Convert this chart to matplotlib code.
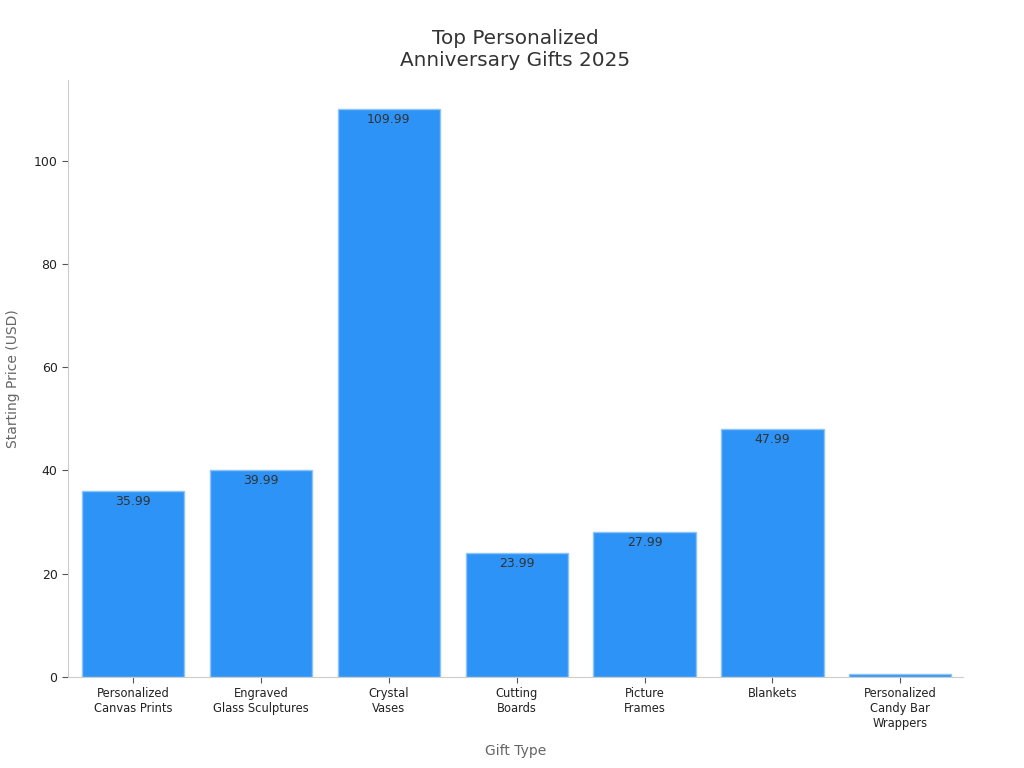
import matplotlib as mpl
mpl.use('Agg')
import matplotlib.pyplot as plt
import numpy as np

# data
gifts = ['Personalized\nCanvas Prints', 'Engraved\nGlass Sculptures', 'Crystal\nVases',
         'Cutting\nBoards', 'Picture\nFrames', 'Blankets', 'Personalized\nCandy Bar\nWrappers']
prices = [35.99, 39.99, 109.99, 23.99, 27.99, 47.99, 0.5]

fig = plt.figure(figsize=(10.24, 7.68), dpi=100)
ax = fig.add_axes([68/1024, 1-677/768, (963-68)/1024, (677-80)/768])

x = np.arange(len(gifts))
bars = ax.bar(x, prices, width=0.8, color='#2E93F7', edgecolor='#8CC4F5', linewidth=1)

for xi, p in zip(x, prices):
    if p > 1:
        ax.text(xi, p - 0.7, '%.2f' % p, ha='center', va='top', fontsize=9, color='#333333')

ax.set_xlim(-0.51, 6.49)
ax.set_ylim(0, 115.6)
ax.set_xticks(x)
ax.set_xticklabels(gifts, fontsize=8.3, color='#222222')
ax.set_yticks([0, 20, 40, 60, 80, 100])
ax.tick_params(axis='y', labelsize=9, colors='#222222')
ax.tick_params(axis='both', color='#555555', length=4)

for s in ['top', 'right']:
    ax.spines[s].set_visible(False)
for s in ['left', 'bottom']:
    ax.spines[s].set_color('#cccccc')

ax.set_xlabel('Gift Type', fontsize=10, color='#666666', labelpad=10)
ax.set_ylabel('Starting Price (USD)', fontsize=10, color='#666666', labelpad=10)
ax.set_title('Top Personalized\nAnniversary Gifts 2025', fontsize=14.4, color='#333333', pad=10)

plt.savefig('out.png', dpi=100)
plt.close('all')
